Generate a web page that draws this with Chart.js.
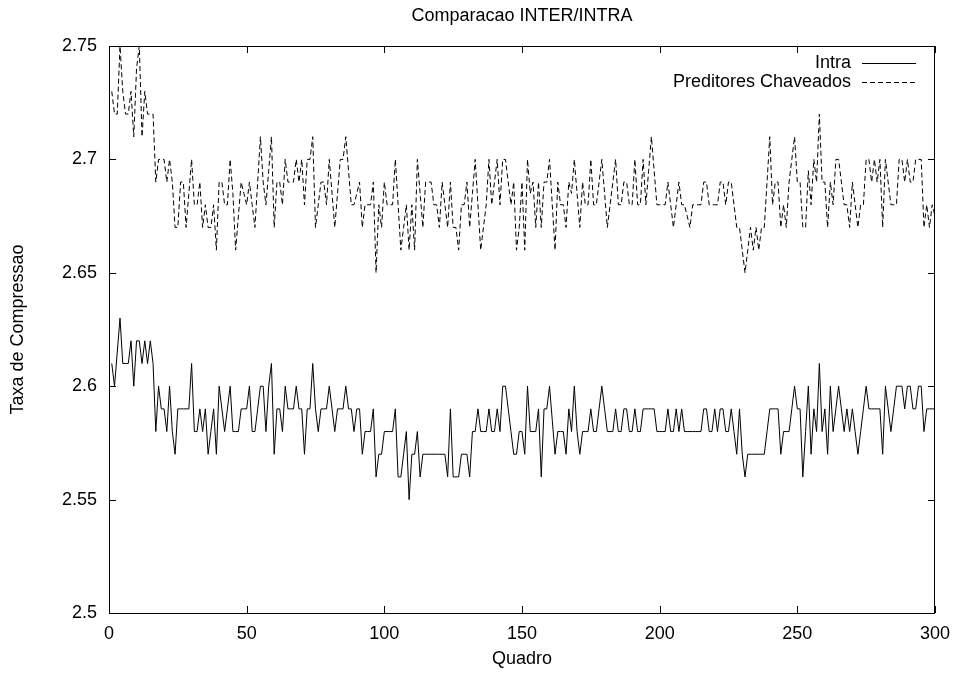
<!DOCTYPE html>
<html>
<head>
<meta charset="utf-8">
<script src="https://cdn.jsdelivr.net/npm/chart.js@4/dist/chart.umd.min.js"></script>
<style>
html,body{margin:0;padding:0;background:#fff;}
canvas{display:block;}
</style>
</head>
<body>
<canvas id="c" width="960" height="673"></canvas>
<script>
const chartTitle = "Comparacao INTER/INTRA";
const xTitle = "Quadro";
const yTitle = "Taxa de Compressao";
const seriesNames = ["Intra", "Preditores Chaveados"];
const xTicks = [0, 50, 100, 150, 200, 250, 300];
const yTicks = [2.5, 2.55, 2.6, 2.65, 2.7, 2.75];
const yTickLabels = ["2.5", "2.55", "2.6", "2.65", "2.7", "2.75"];

const intra = [
2.61,2.60,2.615,2.63,2.61,2.61,2.61,2.62,2.60,2.62,
2.62,2.61,2.62,2.61,2.62,2.61,2.58,2.60,2.59,2.59,
2.58,2.60,2.58,2.57,2.59,2.59,2.59,2.59,2.59,2.61,
2.58,2.58,2.59,2.58,2.59,2.57,2.58,2.59,2.57,2.60,
2.59,2.58,2.59,2.60,2.58,2.58,2.58,2.59,2.59,2.59,
2.60,2.58,2.58,2.59,2.60,2.60,2.58,2.60,2.61,2.57,
2.59,2.59,2.58,2.60,2.59,2.59,2.59,2.60,2.59,2.59,
2.57,2.59,2.59,2.61,2.59,2.58,2.59,2.59,2.59,2.60,
2.59,2.58,2.59,2.59,2.59,2.60,2.59,2.59,2.58,2.59,
2.59,2.57,2.58,2.58,2.58,2.59,2.56,2.57,2.57,2.58,
2.58,2.58,2.58,2.59,2.56,2.56,2.57,2.58,2.55,2.57,
2.57,2.58,2.56,2.57,2.57,2.57,2.57,2.57,2.57,2.57,
2.57,2.57,2.56,2.59,2.56,2.56,2.56,2.57,2.57,2.57,
2.56,2.58,2.58,2.59,2.58,2.58,2.58,2.59,2.58,2.58,
2.59,2.58,2.60,2.60,2.59,2.58,2.57,2.57,2.58,2.58,
2.57,2.60,2.58,2.58,2.58,2.59,2.56,2.59,2.59,2.60,
2.585,2.57,2.58,2.58,2.58,2.57,2.59,2.58,2.60,2.58,
2.57,2.58,2.58,2.58,2.59,2.58,2.58,2.59,2.60,2.59,
2.58,2.58,2.58,2.59,2.58,2.58,2.59,2.59,2.58,2.58,
2.59,2.58,2.58,2.59,2.59,2.59,2.59,2.59,2.58,2.58,
2.58,2.58,2.59,2.58,2.58,2.59,2.58,2.59,2.58,2.58,
2.58,2.58,2.58,2.58,2.58,2.59,2.59,2.58,2.58,2.59,
2.58,2.59,2.59,2.58,2.58,2.59,2.58,2.57,2.59,2.57,
2.56,2.57,2.57,2.57,2.57,2.57,2.57,2.57,2.58,2.59,
2.59,2.59,2.59,2.57,2.58,2.58,2.58,2.59,2.60,2.59,
2.59,2.56,2.58,2.60,2.57,2.59,2.58,2.61,2.58,2.59,
2.57,2.60,2.58,2.59,2.60,2.59,2.58,2.59,2.58,2.59,
2.58,2.57,2.58,2.59,2.60,2.59,2.59,2.59,2.59,2.59,
2.57,2.60,2.59,2.58,2.59,2.60,2.60,2.60,2.59,2.60,
2.60,2.59,2.59,2.60,2.60,2.58,2.59,2.59,2.59,2.59
];

const chaveados = [
2.73,2.72,2.72,2.75,2.73,2.72,2.72,2.73,2.71,2.74,
2.75,2.71,2.73,2.72,2.72,2.72,2.69,2.70,2.70,2.70,
2.69,2.70,2.69,2.67,2.67,2.69,2.69,2.67,2.685,2.70,
2.68,2.68,2.69,2.67,2.68,2.67,2.67,2.68,2.66,2.69,
2.69,2.68,2.68,2.70,2.685,2.66,2.675,2.69,2.685,2.68,
2.69,2.68,2.67,2.69,2.71,2.69,2.68,2.695,2.71,2.67,
2.69,2.69,2.68,2.70,2.69,2.69,2.69,2.70,2.69,2.70,
2.68,2.70,2.70,2.71,2.67,2.68,2.69,2.69,2.68,2.70,
2.685,2.67,2.685,2.70,2.70,2.71,2.695,2.68,2.68,2.685,
2.69,2.67,2.68,2.68,2.68,2.69,2.65,2.68,2.67,2.69,
2.68,2.68,2.68,2.70,2.68,2.66,2.67,2.68,2.66,2.68,
2.66,2.70,2.685,2.67,2.69,2.69,2.69,2.68,2.68,2.67,
2.69,2.68,2.67,2.69,2.67,2.67,2.66,2.68,2.68,2.69,
2.67,2.685,2.70,2.68,2.66,2.67,2.68,2.70,2.68,2.69,
2.70,2.68,2.70,2.70,2.69,2.68,2.69,2.66,2.67,2.69,
2.66,2.70,2.685,2.69,2.67,2.69,2.67,2.69,2.69,2.70,
2.68,2.66,2.69,2.68,2.68,2.67,2.69,2.685,2.70,2.685,
2.67,2.69,2.68,2.68,2.70,2.68,2.68,2.69,2.70,2.685,
2.67,2.68,2.69,2.70,2.68,2.68,2.69,2.69,2.68,2.68,
2.70,2.68,2.68,2.70,2.68,2.695,2.71,2.695,2.68,2.68,
2.68,2.68,2.69,2.68,2.67,2.68,2.69,2.68,2.68,2.675,
2.67,2.68,2.68,2.68,2.68,2.69,2.69,2.68,2.68,2.68,
2.68,2.69,2.69,2.68,2.69,2.69,2.68,2.67,2.67,2.66,
2.65,2.66,2.67,2.66,2.67,2.66,2.67,2.67,2.69,2.71,
2.68,2.69,2.69,2.67,2.68,2.67,2.69,2.70,2.71,2.69,
2.69,2.67,2.67,2.695,2.68,2.70,2.69,2.72,2.69,2.69,
2.67,2.69,2.68,2.70,2.70,2.69,2.68,2.68,2.67,2.69,
2.68,2.67,2.68,2.68,2.70,2.70,2.69,2.70,2.69,2.70,
2.67,2.70,2.69,2.68,2.68,2.68,2.70,2.70,2.69,2.70,
2.69,2.69,2.70,2.70,2.70,2.67,2.68,2.67,2.68,2.675
];

const FONT = { family: '"Liberation Sans", Arial, Helvetica, sans-serif', size: 18 };
const FONT_CSS = '18px "Liberation Sans", Arial, Helvetica, sans-serif';
const PLOT = { left: 109, right: 937, top: 46, bottom: 613 };

function toPoints(arr) { return arr.map((v, i) => ({ x: i + 1, y: v })); }

const framePlugin = {
  id: 'frame',
  beforeDatasetsDraw(chart) {
    const { ctx, chartArea: a, scales } = chart;
    ctx.save();
    ctx.strokeStyle = '#000';
    ctx.lineWidth = 1;
    const tl = 7;
    ctx.beginPath();
    xTicks.forEach(v => {
      const px = Math.round(scales.x.getPixelForValue(v)) + 0.5;
      ctx.moveTo(px, a.bottom); ctx.lineTo(px, a.bottom - tl);
      ctx.moveTo(px, a.top); ctx.lineTo(px, a.top + tl);
    });
    yTicks.forEach(v => {
      const py = Math.round(scales.y.getPixelForValue(v)) + 0.5;
      ctx.moveTo(a.left, py); ctx.lineTo(a.left + tl, py);
      ctx.moveTo(a.right, py); ctx.lineTo(a.right - tl, py);
    });
    ctx.stroke();
    ctx.strokeRect(Math.round(a.left) + 0.5, Math.round(a.top) + 0.5,
                   Math.round(a.right - a.left) - 1, Math.round(a.bottom - a.top));
    ctx.restore();
  },
  afterDraw(chart) {
    const { ctx, chartArea: a } = chart;
    ctx.save();
    ctx.fillStyle = '#000';
    ctx.font = FONT_CSS;
    ctx.textAlign = 'center';
    ctx.textBaseline = 'middle';
    ctx.fillText(chartTitle, (a.left + a.right) / 2, 16);
    const rows = [63, 82];
    chart.data.datasets.forEach((ds, i) => {
      const y = rows[i];
      ctx.textAlign = 'right';
      ctx.fillText(ds.label, 851, y);
      ctx.beginPath();
      ctx.strokeStyle = ds.borderColor;
      ctx.lineWidth = 1;
      ctx.setLineDash(ds.borderDash || []);
      ctx.moveTo(862, y + 0.5);
      ctx.lineTo(916, y + 0.5);
      ctx.stroke();
      ctx.setLineDash([]);
    });
    ctx.restore();
  }
};

new Chart(document.getElementById('c'), {
  type: 'line',
  data: {
    datasets: [
      { label: seriesNames[0], data: toPoints(intra), borderColor: '#000', borderWidth: 1,
        pointRadius: 0, tension: 0, fill: false },
      { label: seriesNames[1], data: toPoints(chaveados), borderColor: '#000', borderWidth: 1,
        borderDash: [5, 3], pointRadius: 0, tension: 0, fill: false }
    ]
  },
  options: {
    responsive: false,
    animation: false,
    layout: { padding: { left: 0, right: 960 - PLOT.right, top: PLOT.top, bottom: 0 } },
    plugins: { legend: { display: false }, title: { display: false }, tooltip: { enabled: false } },
    scales: {
      x: {
        type: 'linear', min: 0, max: 300,
        afterBuildTicks: s => { s.ticks = xTicks.map(v => ({ value: v })); },
        grid: { display: false, drawTicks: false, tickLength: 0 },
        border: { display: false },
        ticks: { color: '#000', font: FONT, padding: 10, maxRotation: 0, autoSkip: false },
        title: { display: true, text: xTitle, color: '#000', font: FONT, padding: { top: 0, bottom: 3 } },
        afterFit: s => { s.height = 673 - PLOT.bottom; }
      },
      y: {
        type: 'linear', min: 2.5, max: 2.75,
        afterBuildTicks: s => { s.ticks = yTicks.map(v => ({ value: v })); },
        grid: { display: false, drawTicks: false, tickLength: 0 },
        border: { display: false },
        ticks: {
          color: '#000', font: FONT, padding: 12, autoSkip: false,
          callback: (v, idx) => yTickLabels[idx]
        },
        title: { display: true, text: yTitle, color: '#000', font: FONT, padding: { top: 7, bottom: 0 } },
        afterFit: s => { s.width = PLOT.left; }
      }
    }
  },
  plugins: [framePlugin]
});
</script>
</body>
</html>
